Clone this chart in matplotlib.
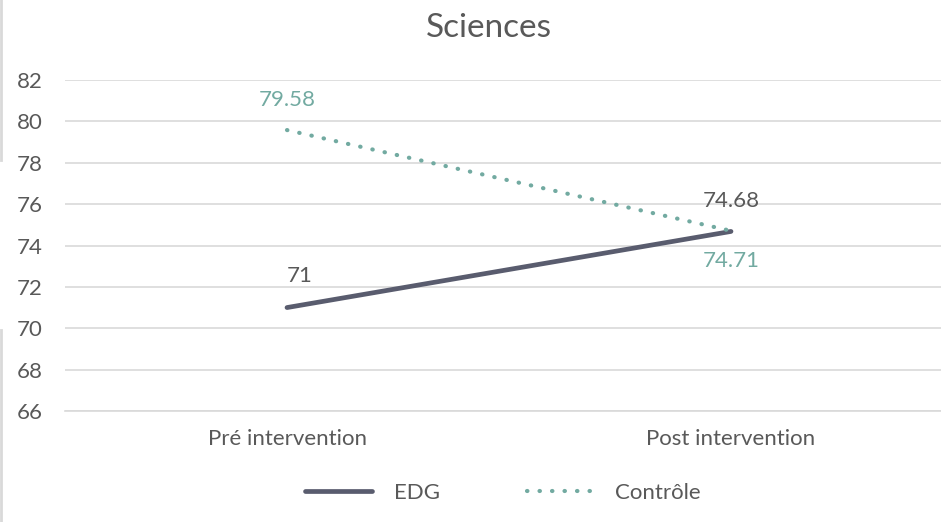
import matplotlib
matplotlib.use("Agg")
import matplotlib.pyplot as plt
from matplotlib.lines import Line2D

categories = ["Pré intervention", "Post intervention"]
edg = [71, 74.68]
controle = [79.58, 74.71]
yticks = [66, 68, 70, 72, 74, 76, 78, 80, 82]

plt.rcParams['font.family'] = ['Lato', 'DejaVu Sans']
txt = '#595959'
c_edg = '#595C6E'
c_ctl = '#72AAA1'
fs = 16

fig = plt.figure(figsize=(9.41, 5.22), dpi=100)
ax = fig.add_axes([65/941, 1-411/522, 888/941, (411-80)/522])
x = list(range(len(categories)))

ax.plot(x, edg, color=c_edg, lw=3.4, solid_capstyle='round', label='EDG', zorder=3)
ax.plot(x, controle, color=c_ctl, lw=3.0, linestyle=(0, (0.1, 2.9)),
        dash_capstyle='round', label='Contrôle', zorder=3)

ax.set_xlim(-0.5, 1.5)
ax.set_ylim(66, 82)
ax.set_yticks(yticks)
ax.set_xticks(x)
ax.set_xticklabels(categories)
ax.grid(axis='y', color='#D9D9D9', lw=1.2)
ax.set_axisbelow(True)
for s in ['top', 'right', 'left']:
    ax.spines[s].set_visible(False)
ax.spines['bottom'].set_color('#D9D9D9')
ax.spines['bottom'].set_linewidth(1.2)
ax.tick_params(axis='both', length=0, labelsize=fs, colors=txt)
ax.tick_params(axis='y', pad=16)
ax.tick_params(axis='x', pad=13)

# data labels
ax.annotate(f"{edg[0]:g}", (x[0], edg[0]), xytext=(9, 23), textcoords='offset points',
            ha='center', va='center', fontsize=fs, color=txt)
ax.annotate(f"{edg[1]:g}", (x[1], edg[1]), xytext=(0, 22), textcoords='offset points',
            ha='center', va='center', fontsize=fs, color=txt)
ax.annotate(f"{controle[0]:g}", (x[0], controle[0]), xytext=(0, 21.5), textcoords='offset points',
            ha='center', va='center', fontsize=fs, color=c_ctl)
ax.annotate(f"{controle[1]:g}", (x[1], controle[1]), xytext=(0, -22), textcoords='offset points',
            ha='center', va='center', fontsize=fs, color=c_ctl)

fig.text(489/941, 1-28/522, "Sciences", ha='center', va='center', fontsize=24, color=txt)

fig.legend(handles=[Line2D([], [], color=c_edg, lw=3.4, solid_capstyle='round'),
                    Line2D([], [], color=c_ctl, lw=3.0, linestyle=(0, (0.1, 2.9)), dash_capstyle='round')],
           labels=['EDG', 'Contrôle'], loc='center', bbox_to_anchor=(503/941, 1-493/522),
           ncol=2, frameon=False, fontsize=fs, labelcolor=txt, handlelength=3.0,
           columnspacing=3.9, handletextpad=1.0)

# faint left border fragments
fig.add_artist(Line2D([1/941, 1/941], [1, 1-160/522], color='#D9D9D9', lw=2, transform=fig.transFigure))
fig.add_artist(Line2D([1/941, 1/941], [1-330/522, 0], color='#D9D9D9', lw=2, transform=fig.transFigure))

fig.savefig("out.png", dpi=100)
